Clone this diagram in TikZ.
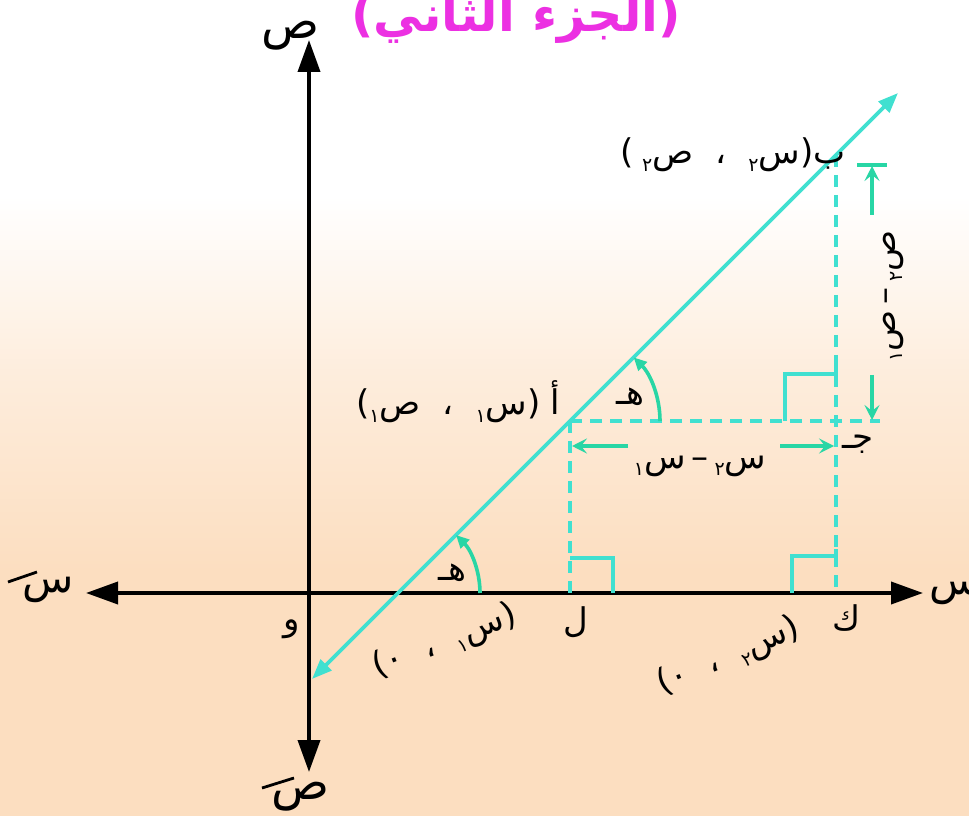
\documentclass[tikz,border=0pt]{standalone}
\usepackage{fontspec}
\newfontfamily\arabicfont[Script=Arabic]{DejaVu Sans}
\TeXXeTstate=1
\usetikzlibrary{arrows.meta,calc}
\definecolor{peach}{RGB}{252,222,192}
\definecolor{cyanl}{RGB}{64,224,208}
\definecolor{greenl}{RGB}{40,214,165}
\definecolor{magen}{RGB}{236,48,226}
\pgfdeclareverticalshading{bgshade}{100bp}{color(0bp)=(peach); color(40bp)=(peach); color(52bp)=(peach!55!white); color(63bp)=(white); color(100bp)=(white)}
\newcommand\ar[1]{{\arabicfont\beginR #1\endR}}
\newcommand\sbd[1]{\raisebox{-0.4ex}{\fontsize{19}{19}\selectfont #1}}
\newcommand\gap{\hspace{22pt}}
\tikzset{
  axisline/.style={line width=3.8pt, black, -{Triangle[length=32pt,width=22pt]}},
  mainline/.style={line width=3.8pt, cyanl, {Triangle[length=20pt,width=15pt]}-{Triangle[length=20pt,width=15pt]}},
  dashline/.style={line width=3.6pt, cyanl, dash pattern=on 12pt off 8pt},
  rightmark/.style={line width=3.2pt, cyanl},
  measure/.style={line width=3.2pt, greenl, -{Stealth[length=15pt,width=15pt,inset=6pt]}},
  anglearc/.style={line width=3.6pt, greenl, -{Triangle[length=13pt,width=12pt]}},
  lbl/.style={inner sep=0pt, font=\fontsize{34}{34}\selectfont},
  axlbl/.style={inner sep=0pt, font=\fontsize{48}{48}\selectfont},
  axlbls/.style={inner sep=0pt, font=\fontsize{42}{42}\selectfont},
}
\begin{document}
\begin{tikzpicture}[x=1pt,y=1pt]
\useasboundingbox (0,0) rectangle (969,815);
\clip (0,0) rectangle (969,815);
\shade[shading=bgshade] (0,0) rectangle (969,815);

% coordinates
\coordinate (O) at (309,222);
\coordinate (ytop) at (309,775);
\coordinate (ybot) at (309,43);
\coordinate (xleft) at (86,222);
\coordinate (xright) at (923,222);
\coordinate (P0) at (312,136);
\coordinate (P1) at (898,722);
\coordinate (X0) at (398,222);
\coordinate (A) at (570,394);
\coordinate (B) at (836,660);
\coordinate (C) at (836,394);
\coordinate (L) at (570,222);
\coordinate (K) at (836,222);
\coordinate (Hend) at (880,394);

% axes
\draw[axisline] (O) -- (ytop);
\draw[axisline] (O) -- (ybot);
\draw[axisline] (O) -- (xleft);
\draw[axisline] (O) -- (xright);

% dashed construction lines
\draw[dashline] (A) -- (Hend);
\draw[dashline] (A) -- (L);
\draw[dashline] (B) -- (K);

% right-angle marks
\draw[rightmark] (570,257) -- (613,257) -- (613,222);
\draw[rightmark] (836,259) -- (792,259) -- (792,222);
\draw[rightmark] (836,252) -- (836,266);
\draw[rightmark] (836,441) -- (785,441) -- (785,394);
\draw[rightmark] (836,434) -- (836,448);

% main line
\draw[mainline] (P0) -- (P1);

% angle arcs
\draw[anglearc] ($(X0)+(82,0)$) arc[start angle=0, end angle=45, radius=82];
\draw[anglearc] ($(A)+(90,0)$) arc[start angle=0, end angle=45, radius=90];

% measurement arrows
\coordinate (hl1) at (628,369); \coordinate (hl2) at (572,369);
\coordinate (hr1) at (780,369); \coordinate (hr2) at (834,369);
\draw[measure] (hl1) -- (hl2);
\draw[measure] (hr1) -- (hr2);
\coordinate (vt1) at (872,600); \coordinate (vt2) at (872,649);
\coordinate (vb1) at (872,440); \coordinate (vb2) at (872,395);
\draw[measure] (vt1) -- (vt2);
\draw[measure] (vb1) -- (vb2);
\draw[line width=3.2pt, greenl] (857,650) -- (887,650);

% title
\node[inner sep=0pt, anchor=base, text=magen, font=\bfseries\fontsize{49}{49}\selectfont] (title) at (516,783) {\ar{(الجزء الثاني)}};

% axis labels
\node[axlbl] (ly) at (291,779) {\ar{ص}};
\node[axlbls] (lxl) at (48,225) {\ar{س}};
\node[axlbls, anchor=west] (lxr) at (929,223) {\ar{س}};
\node[axlbl] (lyb) at (301,18) {\ar{ص}};
\draw[line width=2.8pt] (8,233) -- (37,243);
\draw[line width=2.8pt] (262,27) -- (294,37);

% point labels
\node[lbl] (lO) at (292,186) {\ar{و}};
\node[lbl] (lL) at (576,193) {\ar{ل}};
\node[lbl] (lK) at (847,197) {\ar{ك}};
\node[lbl] (lC) at (858,371) {\ar{جـ}};
\node[lbl] (lB) at (733,660) {\ar{ب(س\sbd{٢}\gap،\gap ص\sbd{٢}\hspace{8pt})}};
\node[lbl] (lA) at (458,413) {\ar{أ\hspace{10pt}(س\sbd{١}\gap،\gap ص\sbd{١})}};
\node[lbl] (h1) at (452,242) {\ar{هـ}};
\node[lbl] (h2) at (630,418) {\ar{هـ}};
\node[lbl] (dx) at (700,349) {\ar{س\sbd{٢}\hspace{6pt}–\hspace{6pt}س\sbd{١}}};
\node[lbl, rotate=90] (dy) at (893,519) {\ar{ص\sbd{٢}\hspace{6pt}–\hspace{6pt}ص\sbd{١}}};
\node[lbl, rotate=21] (lx1) at (445,173) {\ar{(س\sbd{١}\gap،\gap ٠)}};
\node[lbl, rotate=23] (lx2) at (729,158) {\ar{(س\sbd{٢}\gap،\gap ٠)}};
\end{tikzpicture}
\end{document}
